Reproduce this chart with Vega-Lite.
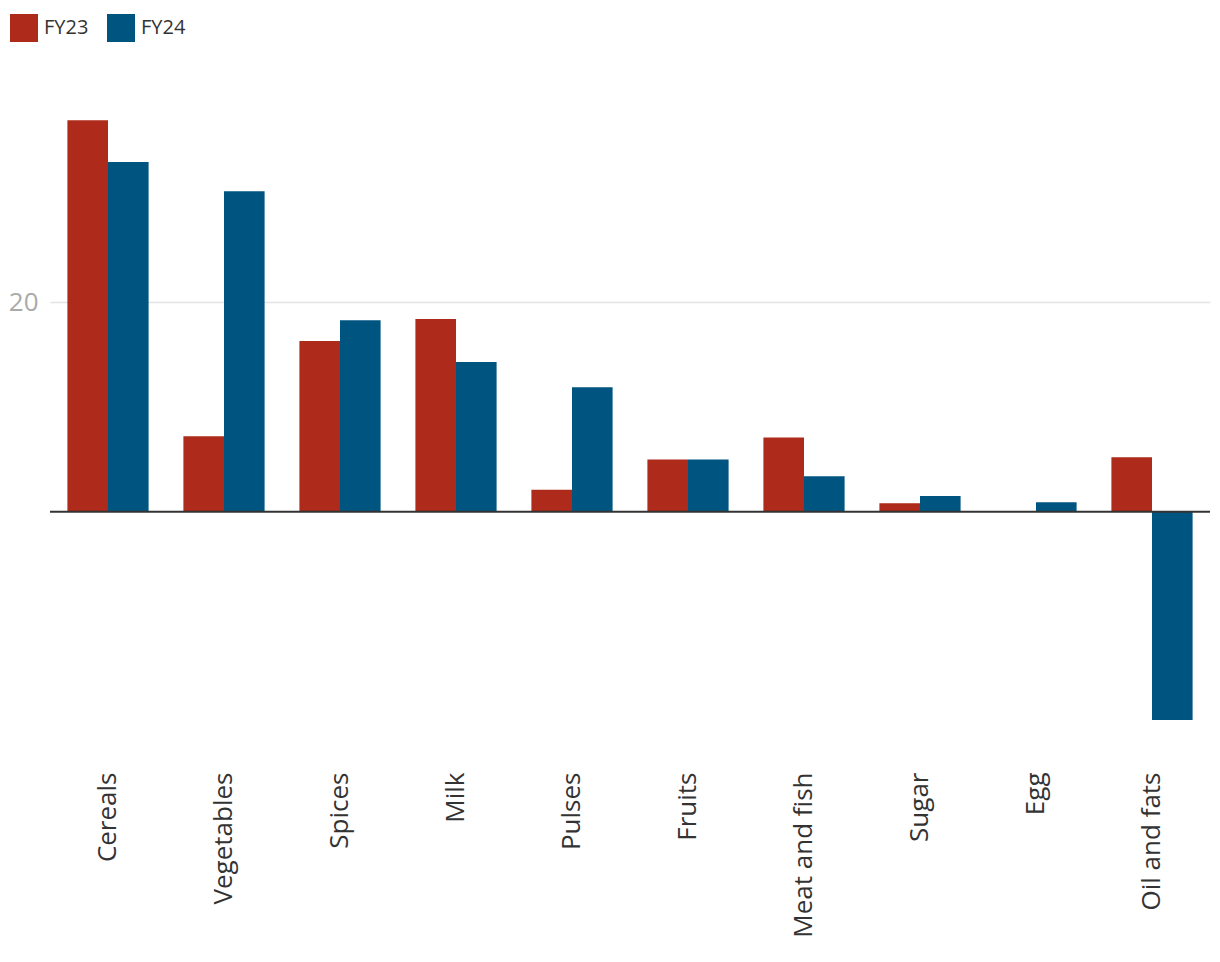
{
  "$schema": "https://vega.github.io/schema/vega-lite/v6.json",
  "width": 1160,
  "height": 691,
  "autosize": "none",
  "padding": {"left": 50, "top": 72, "right": 10, "bottom": 199},
  "background": "white",
  "config": {
    "view": {"stroke": null},
    "font": "Open Sans"
  },
  "data": {
    "values": [
      {"category": "Cereals", "year": "FY23", "value": 37.4},
      {"category": "Cereals", "year": "FY24", "value": 33.4},
      {"category": "Vegetables", "year": "FY23", "value": 7.2},
      {"category": "Vegetables", "year": "FY24", "value": 30.6},
      {"category": "Spices", "year": "FY23", "value": 16.3},
      {"category": "Spices", "year": "FY24", "value": 18.3},
      {"category": "Milk", "year": "FY23", "value": 18.4},
      {"category": "Milk", "year": "FY24", "value": 14.3},
      {"category": "Pulses", "year": "FY23", "value": 2.1},
      {"category": "Pulses", "year": "FY24", "value": 11.9},
      {"category": "Fruits", "year": "FY23", "value": 5.0},
      {"category": "Fruits", "year": "FY24", "value": 5.0},
      {"category": "Meat and fish", "year": "FY23", "value": 7.1},
      {"category": "Meat and fish", "year": "FY24", "value": 3.4},
      {"category": "Sugar", "year": "FY23", "value": 0.8},
      {"category": "Sugar", "year": "FY24", "value": 1.5},
      {"category": "Egg", "year": "FY23", "value": 0.0},
      {"category": "Egg", "year": "FY24", "value": 0.9},
      {"category": "Oil and fats", "year": "FY23", "value": 5.2},
      {"category": "Oil and fats", "year": "FY24", "value": -19.9}
    ]
  },
  "layer": [
    {
      "mark": {"type": "bar"},
      "encoding": {
        "x": {
          "field": "category",
          "type": "nominal",
          "sort": null,
          "scale": {"paddingInner": 0.3, "paddingOuter": 0.15},
          "axis": {
            "title": null,
            "labelAngle": -90,
            "labelFontSize": 26,
            "labelColor": "#333333",
            "labelPadding": 9,
            "ticks": false,
            "domain": false,
            "offset": 0
          }
        },
        "xOffset": {"field": "year", "type": "nominal", "scale": {"paddingInner": 0, "paddingOuter": 0}},
        "y": {
          "field": "value",
          "type": "quantitative",
          "scale": {"domain": [-24, 42], "nice": false, "zero": false},
          "axis": {
            "title": null,
            "values": [20],
            "labelFontSize": 26,
            "labelColor": "#aaaaaa",
            "labelPadding": 12,
            "ticks": false,
            "domain": false,
            "grid": true,
            "gridColor": "#e3e3e3",
            "gridWidth": 1.5
          }
        },
        "color": {
          "field": "year",
          "type": "nominal",
          "scale": {"domain": ["FY23", "FY24"], "range": ["#AE2A1A", "#005480"]},
          "legend": {
            "title": null,
            "orient": "none",
            "legendX": -40,
            "legendY": -58,
            "direction": "horizontal",
            "symbolType": "square",
            "symbolSize": 784,
            "symbolStrokeWidth": 0,
            "labelFontSize": 20,
            "labelColor": "#333333",
            "labelOffset": 6,
            "columnPadding": 18
          }
        }
      }
    },
    {
      "data": {"values": [{"y": 0}]},
      "mark": {"type": "rule", "color": "#333333", "strokeWidth": 2},
      "encoding": {"y": {"field": "y", "type": "quantitative"}}
    }
  ]
}
